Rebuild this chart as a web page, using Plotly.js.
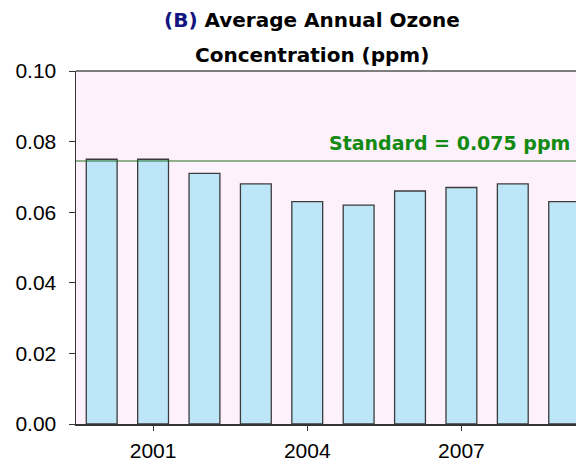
<!DOCTYPE html>
<html>
<head>
<meta charset="utf-8">
<script src="https://cdn.plot.ly/plotly-3.0.1.min.js"></script>
<style>html,body{margin:0;padding:0;background:#fff;}#chart{width:576px;height:462px;}</style>
</head>
<body>
<div id="chart"></div>
<script>
const years = [2000, 2001, 2002, 2003, 2004, 2005, 2006, 2007, 2008, 2009];
const ozone = [0.075, 0.075, 0.071, 0.068, 0.063, 0.062, 0.066, 0.067, 0.068, 0.063];
const standardValue = 0.0745;
const standardLabel = "Standard = 0.075 ppm";
const titleLine1 = '<span style="color:#141480">(B)</span> Average Annual Ozone';
const titleLine2 = 'Concentration (ppm)';
const xTicks = [2001, 2004, 2007];
const yTicks = [0, 0.02, 0.04, 0.06, 0.08, 0.10];

const traces = [{
  type: 'bar',
  x: years,
  y: ozone,
  marker: {color: '#bee6f9', line: {color: '#3c3c3c', width: 1.3}},
  hoverinfo: 'x+y'
}];

const titleFont = {family: 'DejaVu Sans', size: 20, color: '#000', weight: 'bold'};

const layout = {
  width: 576, height: 462,
  margin: {l: 76, r: 0, t: 71, b: 38},
  paper_bgcolor: '#ffffff',
  plot_bgcolor: '#fdf1fb',
  showlegend: false,
  bargap: 0.4,
  xaxis: {
    range: [1999.5, 2009.23],
    tickvals: xTicks, ticktext: xTicks.map(String),
    ticks: 'outside', ticklen: 5, tickcolor: '#333', tickwidth: 1,
    showline: true, linecolor: '#333', linewidth: 1.5,
    showgrid: false, zeroline: false,
    tickfont: {family: 'Liberation Sans, Arial', size: 21, color: '#000'},
    ticklabelstandoff: 2
  },
  yaxis: {
    range: [0, 0.10],
    tickvals: yTicks, ticktext: yTicks.map(v => v.toFixed(2)),
    ticks: 'outside', ticklen: 6, tickcolor: '#333', tickwidth: 1,
    showline: true, linecolor: '#333', linewidth: 1.5,
    showgrid: false, zeroline: false,
    tickfont: {family: 'Liberation Sans, Arial', size: 21, color: '#000'},
    ticklabelstandoff: 8
  },
  shapes: [
    {type: 'line', xref: 'paper', yref: 'y', x0: 0, x1: 1, y0: standardValue, y1: standardValue,
     line: {color: '#1f6e1f', width: 1}},
    {type: 'line', xref: 'paper', yref: 'paper', x0: 0, x1: 1, y0: 1, y1: 1,
     line: {color: '#555', width: 1.5}}
  ],
  annotations: [
    {
      xref: 'paper', yref: 'y', x: 0.992, y: standardValue,
      xanchor: 'right', yanchor: 'middle', yshift: 18,
      text: standardLabel, showarrow: false,
      font: {family: 'DejaVu Sans', size: 19, color: '#138a13', weight: 'bold'}
    },
    {
      xref: 'paper', yref: 'paper', x: 0.472, y: 1.1445,
      xanchor: 'center', yanchor: 'middle', showarrow: false,
      text: titleLine1, font: titleFont
    },
    {
      xref: 'paper', yref: 'paper', x: 0.472, y: 1.0453,
      xanchor: 'center', yanchor: 'middle', showarrow: false,
      text: titleLine2, font: titleFont
    }
  ]
};

Plotly.newPlot('chart', traces, layout, {displayModeBar: false, staticPlot: true});
</script>
</body>
</html>
